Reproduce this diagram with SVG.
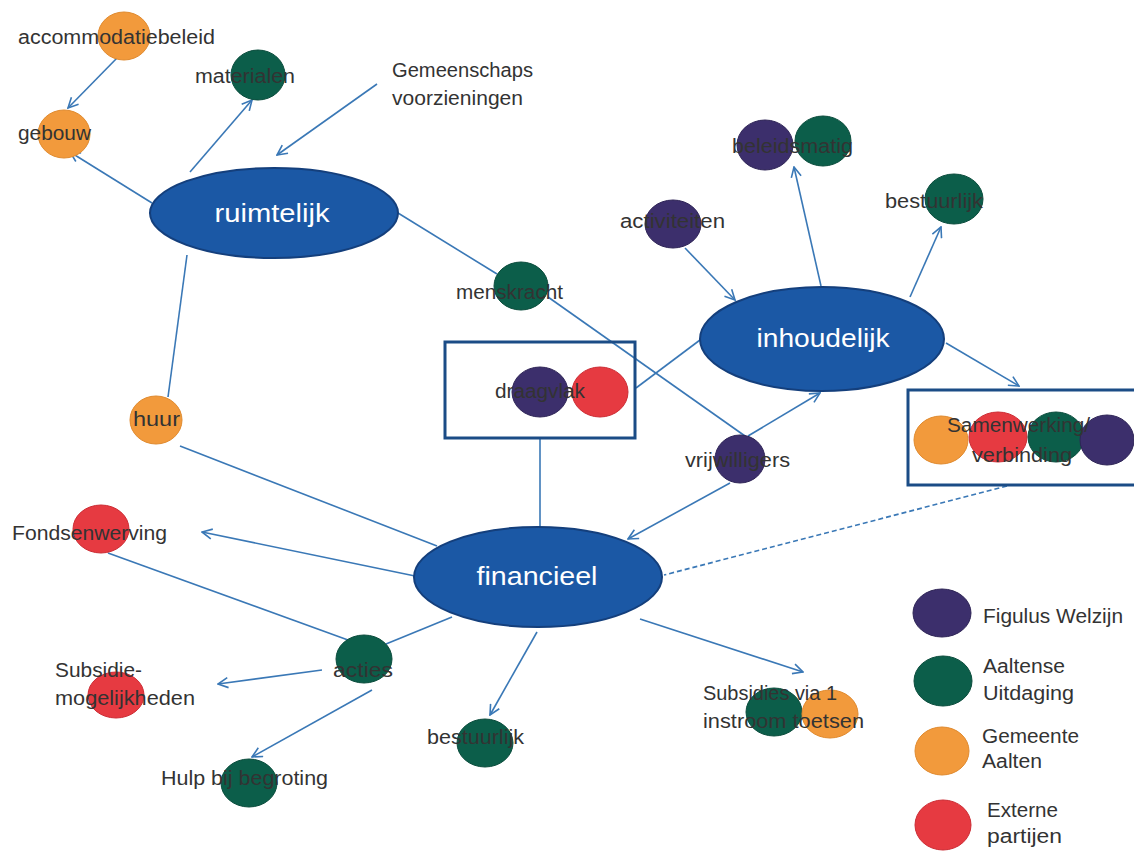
<svg xmlns="http://www.w3.org/2000/svg" width="1134" height="852" viewBox="0 0 1134 852">
<style>
.main{fill:#1b58a5;stroke:#143f7c;stroke-width:2}
.mt{font-family:"Liberation Sans",Arial,sans-serif;font-size:25px;fill:#ffffff}
.t{font-family:"Liberation Sans",Arial,sans-serif;font-size:20px;fill:#333333}
.pu{fill:#3c2f6c;stroke:#2e2456;stroke-width:1}
.gr{fill:#0c5e4a;stroke:#0a4c3c;stroke-width:1}
.or{fill:#f29a3c;stroke:#e08a2e;stroke-width:1}
.re{fill:#e63a41;stroke:#cc2b33;stroke-width:1}
.box{fill:none;stroke:#1b4c86;stroke-width:3}
.c{stroke:#3a78b6;stroke-width:1.6;fill:none}
.a{marker-end:url(#arr)}
.d{stroke-dasharray:5 3}
</style>
<defs>
<marker id="arr" viewBox="0 0 12 12" refX="11" refY="6" markerWidth="12" markerHeight="12" markerUnits="userSpaceOnUse" orient="auto">
<path d="M1,1 L11,6 L1,11" fill="none" stroke="#3a78b6" stroke-width="1.6"/>
</marker>
</defs>
<rect width="1134" height="852" fill="#ffffff"/>

<g id="connectors">
<line class="c a" x1="117" y1="58" x2="68" y2="108"/>
<line class="c a" x1="152" y1="203" x2="70" y2="152"/>
<line class="c a" x1="190" y1="172" x2="252" y2="100"/>
<line class="c a" x1="377" y1="84" x2="277" y2="155"/>
<line class="c" x1="398" y1="213" x2="497" y2="274"/>
<line class="c" x1="548" y1="297" x2="745" y2="436"/>
<line class="c a" x1="685" y1="248" x2="735" y2="300"/>
<line class="c a" x1="821" y1="286" x2="794" y2="167"/>
<line class="c a" x1="910" y1="297" x2="941" y2="227"/>
<line class="c a" x1="946" y1="343" x2="1019" y2="386"/>
<line class="c" x1="636" y1="388" x2="700" y2="340"/>
<line class="c" x1="540" y1="438" x2="540" y2="527"/>
<line class="c a" x1="748" y1="436" x2="820" y2="393"/>
<line class="c a" x1="730" y1="483" x2="628" y2="539"/>
<line class="c" x1="168" y1="397" x2="187" y2="255"/>
<line class="c" x1="180" y1="446" x2="437" y2="546"/>
<line class="c a" x1="415" y1="576" x2="202" y2="532"/>
<line class="c" x1="108" y1="553" x2="348" y2="640"/>
<line class="c" x1="452" y1="617" x2="386" y2="644"/>
<line class="c a" x1="322" y1="670" x2="218" y2="684"/>
<line class="c a" x1="372" y1="690" x2="252" y2="757"/>
<line class="c a" x1="537" y1="632" x2="490" y2="715"/>
<line class="c a" x1="640" y1="619" x2="803" y2="672"/>
<line class="c d" x1="1007" y1="486" x2="664" y2="575"/>
</g>

<g id="ruimtelijk"><ellipse class="main" cx="274" cy="213" rx="124" ry="45"/><text class="mt" x="272" y="222" text-anchor="middle" textLength="115" lengthAdjust="spacingAndGlyphs">ruimtelijk</text></g>
<g id="inhoudelijk"><ellipse class="main" cx="822" cy="339" rx="122" ry="52"/><text class="mt" x="823" y="347" text-anchor="middle" textLength="133" lengthAdjust="spacingAndGlyphs">inhoudelijk</text></g>
<g id="financieel"><ellipse class="main" cx="538" cy="577" rx="124" ry="50"/><text class="mt" x="537" y="585" text-anchor="middle" textLength="121" lengthAdjust="spacingAndGlyphs">financieel</text></g>

<g id="accommodatiebeleid"><ellipse class="or" cx="124" cy="36" rx="26" ry="24"/><text class="t" x="18" y="44" textLength="197" lengthAdjust="spacingAndGlyphs">accommodatiebeleid</text></g>
<g id="gebouw"><ellipse class="or" cx="64" cy="134" rx="26" ry="24"/><text class="t" x="18" y="140" textLength="73" lengthAdjust="spacingAndGlyphs">gebouw</text></g>
<g id="materialen"><ellipse class="gr" cx="258" cy="75" rx="27" ry="25"/><text class="t" x="195" y="83" textLength="100" lengthAdjust="spacingAndGlyphs">materialen</text></g>
<g id="gemeenschapsvoorzieningen"><text class="t" x="392" y="77" textLength="141" lengthAdjust="spacingAndGlyphs">Gemeenschaps</text><text class="t" x="392" y="105" textLength="131" lengthAdjust="spacingAndGlyphs">voorzieningen</text></g>
<g id="menskracht"><ellipse class="gr" cx="521" cy="286" rx="27" ry="24"/><text class="t" x="456" y="299" textLength="107" lengthAdjust="spacingAndGlyphs">menskracht</text></g>
<g id="draagvlak"><rect class="box" x="445" y="342" width="190" height="96"/><ellipse class="pu" cx="540" cy="392" rx="28" ry="25"/><ellipse class="re" cx="600" cy="392" rx="28" ry="25"/><text class="t" x="495" y="398" textLength="90" lengthAdjust="spacingAndGlyphs">draagvlak</text></g>
<g id="vrijwilligers"><ellipse class="pu" cx="740" cy="459" rx="25" ry="24"/><text class="t" x="685" y="467" textLength="105" lengthAdjust="spacingAndGlyphs">vrijwilligers</text></g>
<g id="activiteiten"><ellipse class="pu" cx="673" cy="224" rx="28" ry="24"/><text class="t" x="620" y="228" textLength="105" lengthAdjust="spacingAndGlyphs">activiteiten</text></g>
<g id="beleidsmatig"><ellipse class="pu" cx="765" cy="145" rx="28" ry="25"/><ellipse class="gr" cx="823" cy="141" rx="28" ry="25"/><text class="t" x="732" y="153" textLength="121" lengthAdjust="spacingAndGlyphs">beleidsmatig</text></g>
<g id="bestuurlijk-top"><ellipse class="gr" cx="954" cy="199" rx="29" ry="25"/><text class="t" x="885" y="208" textLength="98" lengthAdjust="spacingAndGlyphs">bestuurlijk</text></g>
<g id="samenwerking"><rect class="box" x="908" y="390" width="230" height="95"/><ellipse class="or" cx="941" cy="440" rx="27" ry="24"/><ellipse class="re" cx="998" cy="437" rx="29" ry="25"/><ellipse class="gr" cx="1056" cy="437" rx="28" ry="25"/><ellipse class="pu" cx="1107" cy="440" rx="27" ry="25"/><text class="t" x="947" y="432" textLength="143" lengthAdjust="spacingAndGlyphs">Samenwerking/</text><text class="t" x="972" y="462" textLength="100" lengthAdjust="spacingAndGlyphs">verbinding</text></g>
<g id="huur"><ellipse class="or" cx="156" cy="420" rx="26" ry="24"/><text class="t" x="133" y="426" textLength="47" lengthAdjust="spacingAndGlyphs">huur</text></g>
<g id="fondsenwerving"><ellipse class="re" cx="101" cy="529" rx="28" ry="24"/><text class="t" x="12" y="540" textLength="155" lengthAdjust="spacingAndGlyphs">Fondsenwerving</text></g>
<g id="subsidiemogelijkheden"><ellipse class="re" cx="116" cy="695" rx="28" ry="23"/><text class="t" x="55" y="677" textLength="87" lengthAdjust="spacingAndGlyphs">Subsidie-</text><text class="t" x="55" y="705" textLength="140" lengthAdjust="spacingAndGlyphs">mogelijkheden</text></g>
<g id="acties"><ellipse class="gr" cx="364" cy="659" rx="28" ry="24"/><text class="t" x="333" y="677" textLength="60" lengthAdjust="spacingAndGlyphs">acties</text></g>
<g id="hulpbijbegroting"><ellipse class="gr" cx="249" cy="783" rx="28" ry="24"/><text class="t" x="161" y="785" textLength="167" lengthAdjust="spacingAndGlyphs">Hulp bij begroting</text></g>
<g id="bestuurlijk-bottom"><ellipse class="gr" cx="485" cy="743" rx="28" ry="24"/><text class="t" x="427" y="744" textLength="97" lengthAdjust="spacingAndGlyphs">bestuurlijk</text></g>
<g id="subsidies"><ellipse class="gr" cx="774" cy="712" rx="28" ry="24"/><ellipse class="or" cx="830" cy="714" rx="28" ry="24"/><text class="t" x="703" y="700" textLength="134" lengthAdjust="spacingAndGlyphs">Subsidies via 1</text><text class="t" x="703" y="728" textLength="161" lengthAdjust="spacingAndGlyphs">instroom toetsen</text></g>

<g id="legend">
<ellipse class="pu" cx="942" cy="613" rx="29" ry="24"/><text class="t" x="983" y="623" textLength="140" lengthAdjust="spacingAndGlyphs">Figulus Welzijn</text>
<ellipse class="gr" cx="943" cy="681" rx="29" ry="25"/><text class="t" x="983" y="673" textLength="82" lengthAdjust="spacingAndGlyphs">Aaltense</text><text class="t" x="983" y="700" textLength="91" lengthAdjust="spacingAndGlyphs">Uitdaging</text>
<ellipse class="or" cx="942" cy="751" rx="27" ry="24"/><text class="t" x="982" y="743" textLength="97" lengthAdjust="spacingAndGlyphs">Gemeente</text><text class="t" x="982" y="768" textLength="60" lengthAdjust="spacingAndGlyphs">Aalten</text>
<ellipse class="re" cx="943" cy="825" rx="28" ry="25"/><text class="t" x="987" y="817" textLength="71" lengthAdjust="spacingAndGlyphs">Externe</text><text class="t" x="987" y="843" textLength="75" lengthAdjust="spacingAndGlyphs">partijen</text>
</g>
</svg>
